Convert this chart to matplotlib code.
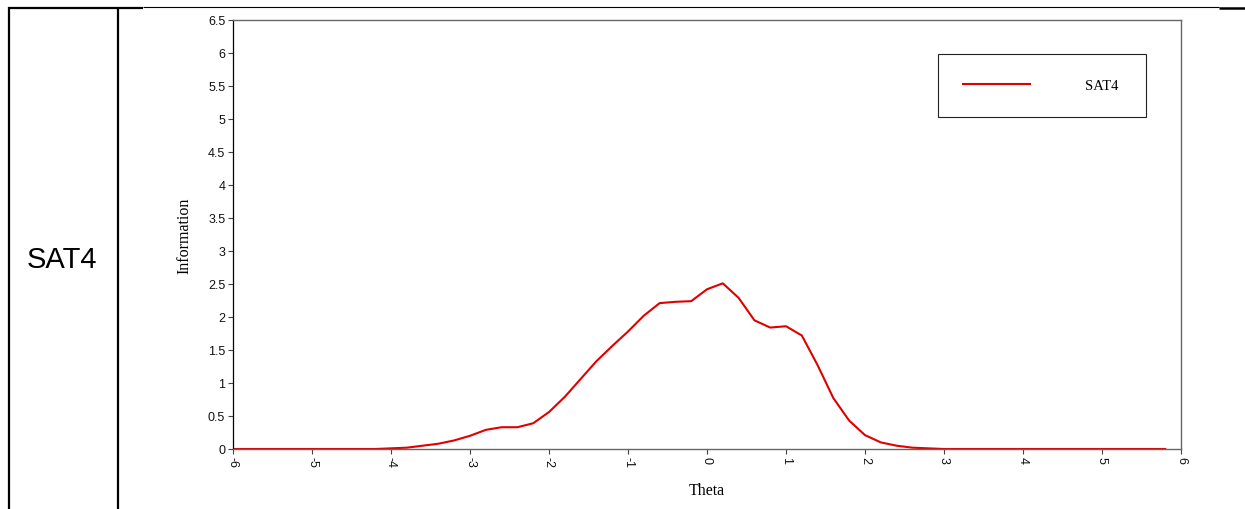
import matplotlib
matplotlib.use("Agg")
import matplotlib.pyplot as plt
from matplotlib.lines import Line2D
import numpy as np

# item information curve for SAT4 (step 0.2)
theta = [-6.0, -5.8, -5.6, -5.4, -5.2, -5.0, -4.8, -4.6, -4.4, -4.2,
         -4.0, -3.8, -3.6, -3.4, -3.2, -3.0, -2.8, -2.6, -2.4, -2.2,
         -2.0, -1.8, -1.6, -1.4, -1.2, -1.0, -0.8, -0.6, -0.4, -0.2,
         0.0, 0.2, 0.4, 0.6, 0.8, 1.0, 1.2, 1.4, 1.6, 1.8,
         2.0, 2.2, 2.4, 2.6, 2.8, 3.0, 3.2, 3.4, 3.6, 3.8,
         4.0, 4.2, 4.4, 4.6, 4.8, 5.0, 5.2, 5.4, 5.6, 5.8]
info = [0.0, 0.0, 0.0, 0.0, 0.0, 0.0, 0.0, 0.0, 0.0, 0.0,
        0.01, 0.02, 0.05, 0.08, 0.13, 0.20, 0.29, 0.33, 0.33, 0.39,
        0.56, 0.79, 1.06, 1.33, 1.56, 1.78, 2.02, 2.21, 2.23, 2.24,
        2.42, 2.51, 2.29, 1.95, 1.84, 1.86, 1.72, 1.27, 0.77, 0.43,
        0.21, 0.10, 0.05, 0.02, 0.01, 0.0, 0.0, 0.0, 0.0, 0.0,
        0.0, 0.0, 0.0, 0.0, 0.0, 0.0, 0.0, 0.0, 0.0, 0.0]
xticks = [-6, -5, -4, -3, -2, -1, 0, 1, 2, 3, 4, 5, 6]
yticks = [0, 0.5, 1, 1.5, 2, 2.5, 3, 3.5, 4, 4.5, 5, 5.5, 6, 6.5]
ytick_labels = ["0", "0.5", "1", "1.5", "2", "2.5", "3", "3.5", "4", "4.5",
                "5", "5.5", "6", "6.5"]
row_label = "SAT4"
series_name = "SAT4"

W, H = 1245, 510
fig = plt.figure(figsize=(W / 100, H / 100), dpi=100)
fig.patch.set_facecolor("white")

def fx(px):
    return px / W

def fy(py):
    return 1 - py / H

# table borders around the chart
def tline(x0, y0, x1, y1, lw):
    fig.add_artist(Line2D([fx(x0), fx(x1)], [fy(y0), fy(y1)], color="black",
                          linewidth=lw, transform=fig.transFigure,
                          solid_capstyle="butt"))

tline(9, 8, 9, 510, 1.6)
tline(118, 8, 118, 510, 1.6)
tline(8, 8.5, 143, 8.5, 1.6)
tline(143, 8, 1219, 8, 0.8)
tline(1219, 9, 1245, 9, 1.8)

fig.text(fx(62), fy(260), row_label, fontsize=21, family="Liberation Sans",
         ha="center", va="center")

ax = fig.add_axes([fx(233), fy(450), fx(1181 - 233), (450 - 21) / H])
ax.plot(theta, info, color="#e00000", linewidth=1.5, label=series_name)
ax.set_xlim(-6, 6)
ax.set_ylim(0, 6.5)
ax.set_xticks(xticks)
ax.set_xticklabels([str(t) for t in xticks], rotation=-90,
                   family="Liberation Sans", fontsize=9, color="#111111")
ax.set_yticks(yticks)
ax.set_yticklabels(ytick_labels, family="Liberation Sans", fontsize=9,
                   color="#111111")
ax.tick_params(axis="both", direction="out", length=3.6, width=0.8,
               color="#444444")
ax.tick_params(axis="x", pad=1.5)
ax.tick_params(axis="y", pad=2)
for side in ["top", "right", "bottom"]:
    ax.spines[side].set_color("#666666")
    ax.spines[side].set_linewidth(1.0)
ax.spines["left"].set_color("black")
ax.spines["left"].set_linewidth(0.9)

ax.set_xlabel("Theta", family="Liberation Serif", fontsize=11.5, labelpad=11)
ax.set_ylabel("Information", family="Liberation Serif", fontsize=11.5,
              labelpad=11)

leg = ax.legend(loc="upper left",
                bbox_to_anchor=(fx(938), fy(55), fx(1146 - 938), 0.0),
                bbox_transform=fig.transFigure, mode="expand",
                borderaxespad=0, borderpad=1.7, handlelength=4.6,
                handletextpad=3.8, handleheight=0.6, fancybox=False,
                framealpha=1, edgecolor="#222222",
                prop={"family": "Liberation Serif", "size": 10.5})
leg.get_frame().set_linewidth(0.8)

fig.savefig("out.png", dpi=100, facecolor="white")
